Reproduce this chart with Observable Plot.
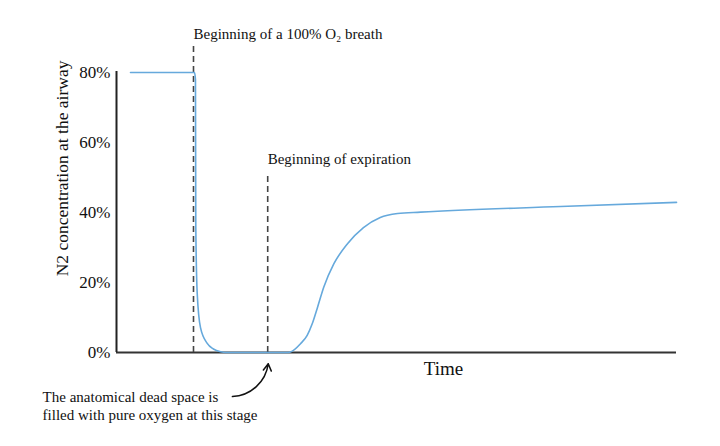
<!DOCTYPE html>
<html>
<head>
<meta charset="utf-8">
<script src="https://cdn.jsdelivr.net/npm/d3@7"></script>
<script src="https://cdn.jsdelivr.net/npm/@observablehq/plot@0.6"></script>
<style>
  html, body { margin: 0; padding: 0; background: #fff; }
  #chart svg { display: block; }
</style>
</head>
<body>
<div id="chart"></div>
<script>
// Time (arbitrary units, 0–100) and N2 concentration (%)
const time = [2.5, 13.93, 14.1, 14.16, 14.41, 15, 16.2, 17.3, 18.6, 19.5, 30.3, 31.07, 32.86, 34.05, 34.95, 35.84, 37.02, 38.8, 41.25, 44.1, 47.1, 50.2, 54.3, 79.3, 100];
const n2   = [80,  80,    78,   36,    17,    7.1, 2.6,  1.0,  0.2,  0,    0,    0.15,  2.5,   4.9,   8.2,   12.6,  18.7,  25.3, 31.1,  35.7, 38.6, 39.7, 40.1, 41.7, 42.9];
const yTicks = [0, 20, 40, 60, 80];
const o2Breath = 13.75;
const expirationStart = 27;

const curve = time.map((t, i) => ({t, v: n2[i]}));

const serif = "Liberation Serif, DejaVu Serif, serif";

const chart = Plot.plot({
  width: 720,
  height: 446,
  marginLeft: 116,
  marginRight: 44,
  marginTop: 72,
  marginBottom: 94,
  style: {fontFamily: serif, background: "#fff"},
  x: {domain: [0, 100], axis: null},
  y: {domain: [0, 80]},
  marks: [
    Plot.axisY({ticks: yTicks, tickFormat: d => d + "%", tickSize: 0, tickPadding: 6,
      fontSize: 17, fill: "#111", label: null}),
    Plot.text(["N2 concentration at the airway"], {x: -9.6, y: 52.6, text: d => d, rotate: -90, fontSize: 17.5, fill: "#111"}),
    Plot.ruleY([0], {x1: 0, x2: 100, stroke: "#333", strokeWidth: 2}),
    Plot.ruleX([0], {y1: 0, y2: 80.3, stroke: "#222", strokeWidth: 2}),
    Plot.ruleX([o2Breath], {y1: 0, y2: 87.7, stroke: "#444", strokeWidth: 1.6, strokeDasharray: "6,4"}),
    Plot.ruleX([expirationStart], {y1: 0, y2: 51, stroke: "#444", strokeWidth: 1.6, strokeDasharray: "6,4"}),
    Plot.line(curve, {x: "t", y: "v", stroke: "#66a9dc", strokeWidth: 1.6, curve: "monotone-x"}),
    Plot.text(["Beginning of a 100% O₂ breath"], {x: o2Breath, y: 90.9, text: d => d, textAnchor: "start", fontSize: 15, fill: "#111"}),
    Plot.text(["Beginning of expiration"], {x: expirationStart, y: 55.1, text: d => d, textAnchor: "start", fontSize: 15, fill: "#111"}),
    Plot.text(["Time"], {x: 58.4, y: -4.6, text: d => d, fontSize: 19, fill: "#111"}),
    Plot.text(["The anatomical dead space is\nfilled with pure oxygen at this stage"], {x: -13.2, y: -15.2, text: d => d, textAnchor: "start", fontSize: 15, lineHeight: 1.2, fill: "#111"}),
    Plot.arrow([{x1: 20.7, y1: -12.6, x2: 27.1, y2: -3.2}], {x1: "x1", y1: "y1", x2: "x2", y2: "y2", bend: -40, stroke: "#111", strokeWidth: 1.5, headLength: 8})
  ]
});
document.getElementById("chart").appendChild(chart);
</script>
</body>
</html>
